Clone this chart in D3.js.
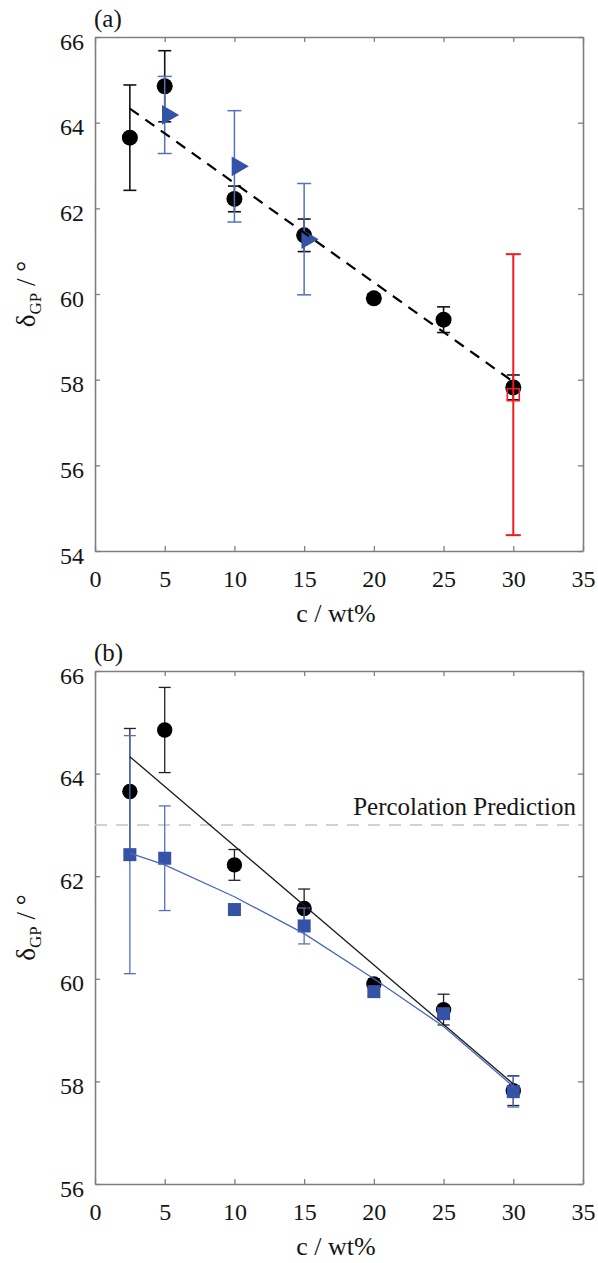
<!DOCTYPE html>
<html>
<head>
<meta charset="utf-8">
<script src="https://cdn.jsdelivr.net/npm/d3@7"></script>
<style>
  body { margin: 0; background: #fff; }
  svg { display: block; }
  text { font-family: "Liberation Serif", "DejaVu Serif", serif; fill: #151515; }
</style>
</head>
<body>
<div id="chart"></div>
<script>
// concentrations (wt%)
const concentrations = [2.5, 5, 10, 15, 20, 25, 30];
// measured delta_GP (black circles), both panels
const deltaMeasured = [63.65, 64.85, 62.22, 61.37, 59.9, 59.4, 57.82];
const deltaMeasuredErr = [1.23, 0.83, 0.3, 0.38, 0.1, 0.3, 0.29];
// panel (a) blue triangles
const triConc = [5, 10, 15];
const deltaTri = [64.18, 62.98, 61.28];
const deltaTriErr = [0.9, 1.3, 1.3];
// panel (a) red open square
const redConc = [30];
const deltaRed = [57.65];
const deltaRedErr = [3.28];
// linear fit (dashed in a, solid in b)
const fitConc = [2.5, 30];
const fitDelta = [64.33, 57.95];
// panel (b) blue squares and model curve
const deltaModel = [62.42, 62.35, 61.35, 61.03, 59.75, 59.32, 57.8];
const deltaModelErr = [2.32, 1.02, 0.06, 0.35, 0.08, 0.1, 0.3];
const modelCurve = [62.45, 62.22, 61.6, 60.88, 60.0, 59.07, 57.9];
const percolation = 63.0;
// ticks
const xTicks = [0, 5, 10, 15, 20, 25, 30, 35];
const yTicksA = [54, 56, 58, 60, 62, 64, 66];
const yTicksB = [56, 58, 60, 62, 64, 66];

const width = 598, height = 1263;
const svg = d3.select("#chart").append("svg")
  .attr("width", width).attr("height", height);

const left = 95, plotW = 488;
const axisGray = "#7f7f7f";
const blue = "#3452a6";
const blueBar = "#5571bd";

function errorBars(g, x, y, xs, ys, es, color, capW, sw) {
  const pts = xs.map((c, i) => ({ c, v: ys[i], e: es[i] }));
  const eb = g.append("g");
  eb.selectAll(null).data(pts).enter().append("line")
    .attr("x1", d => x(d.c)).attr("x2", d => x(d.c))
    .attr("y1", d => y(d.v - d.e)).attr("y2", d => y(d.v + d.e))
    .attr("stroke", color).attr("stroke-width", sw);
  [-1, 1].forEach(s => {
    eb.selectAll(null).data(pts).enter().append("line")
      .attr("x1", d => x(d.c) - capW / 2).attr("x2", d => x(d.c) + capW / 2)
      .attr("y1", d => y(d.v + s * d.e))
      .attr("y2", d => y(d.v + s * d.e))
      .attr("stroke", color).attr("stroke-width", sw);
  });
}

function drawFrame(top, plotH, yDomain, yTicks, tag) {
  const g = svg.append("g").attr("transform", `translate(${left},${top})`);
  const x = d3.scaleLinear().domain([0, 35]).range([0, plotW]);
  const y = d3.scaleLinear().domain(yDomain).range([plotH, 0]);

  const styleAxis = sel => {
    sel.selectAll("path.domain").attr("stroke", axisGray).attr("stroke-width", 1.6);
    sel.selectAll(".tick line").attr("stroke", axisGray).attr("stroke-width", 1.3);
    sel.selectAll(".tick text").attr("font-size", 24).attr("fill", "#151515")
      .attr("font-family", '"Liberation Serif", serif');
  };

  g.append("g").attr("transform", `translate(0,${plotH})`)
    .call(d3.axisBottom(x).tickValues(xTicks).tickSizeInner(-5).tickSizeOuter(0).tickPadding(19))
    .call(styleAxis);
  g.append("g")
    .call(d3.axisTop(x).tickValues(xTicks).tickSizeInner(-5).tickSizeOuter(0).tickFormat(""))
    .call(styleAxis);
  g.append("g")
    .call(d3.axisLeft(y).tickValues(yTicks).tickSizeInner(-5).tickSizeOuter(0).tickPadding(11))
    .call(styleAxis)
    .selectAll(".tick text").attr("dy", "0.5em");
  g.append("g").attr("transform", `translate(${plotW},0)`)
    .call(d3.axisRight(y).tickValues(yTicks).tickSizeInner(-5).tickSizeOuter(0).tickFormat(""))
    .call(styleAxis);

  svg.append("text").attr("x", left - 1).attr("y", top - 10)
    .attr("font-size", 25).text(tag);

  svg.append("text").attr("x", left + plotW / 2 - 3).attr("y", top + plotH + 71)
    .attr("text-anchor", "middle").attr("font-size", 26).text("c / wt%");

  const yl = svg.append("text")
    .attr("transform", `translate(35,${top + plotH / 2}) rotate(-90)`)
    .attr("text-anchor", "middle").attr("font-size", 27);
  yl.append("tspan").text("δ");
  yl.append("tspan").attr("font-size", 17).attr("dy", 6).text("GP");
  yl.append("tspan").attr("dy", -6).text(" / °");

  return { g, x, y };
}

// ---------- panel (a) ----------
{
  const { g, x, y } = drawFrame(37, 514, [54, 66], yTicksA, "(a)");

  errorBars(g, x, y, concentrations, deltaMeasured, deltaMeasuredErr, "#111", 13, 1.6);
  g.selectAll(".dot").data(concentrations).enter().append("circle")
    .attr("cx", d => x(d)).attr("cy", (d, i) => y(deltaMeasured[i]))
    .attr("r", 8).attr("fill", "#000");

  errorBars(g, x, y, triConc, deltaTri, deltaTriErr, blueBar, 14, 1.5);
  g.selectAll(".tri").data(triConc).enter().append("path")
    .attr("d", d3.symbol(d3.symbolTriangle, 170))
    .attr("transform", (d, i) => `translate(${x(d) + 3},${y(deltaTri[i])}) rotate(90)`)
    .attr("fill", blue);

  errorBars(g, x, y, redConc, deltaRed, deltaRedErr, "#ee1c24", 15, 2);
  g.selectAll(".sq").data(redConc).enter().append("rect")
    .attr("x", d => x(d) - 6).attr("y", (d, i) => y(deltaRed[i]) - 6)
    .attr("width", 12).attr("height", 12)
    .attr("fill", "none").attr("stroke", "#ee1c24").attr("stroke-width", 1.6);

  g.append("path")
    .datum(fitConc)
    .attr("d", d3.line().x(d => x(d)).y((d, i) => y(fitDelta[i])))
    .attr("fill", "none").attr("stroke", "#000")
    .attr("stroke-width", 2.2).attr("stroke-dasharray", "11,8");
}

// ---------- panel (b) ----------
{
  const { g, x, y } = drawFrame(671, 513, [56, 66], yTicksB, "(b)");

  g.append("line")
    .attr("x1", 0).attr("x2", plotW)
    .attr("y1", y(percolation)).attr("y2", y(percolation))
    .attr("stroke", "#c4c4c4").attr("stroke-width", 1.5).attr("stroke-dasharray", "12,9");
  g.append("text").attr("x", plotW - 7).attr("y", y(percolation) - 10)
    .attr("text-anchor", "end").attr("font-size", 25).text("Percolation Prediction");

  errorBars(g, x, y, concentrations, deltaMeasured, deltaMeasuredErr, "#222", 12, 1.3);
  g.selectAll(".dot").data(concentrations).enter().append("circle")
    .attr("cx", d => x(d)).attr("cy", (d, i) => y(deltaMeasured[i]))
    .attr("r", 7.7).attr("fill", "#000");

  errorBars(g, x, y, concentrations, deltaModel, deltaModelErr, blueBar, 12, 1.3);
  g.selectAll(".sq").data(concentrations).enter().append("rect")
    .attr("x", d => x(d) - 6.5).attr("y", (d, i) => y(deltaModel[i]) - 6.5)
    .attr("width", 13).attr("height", 13).attr("fill", blue);

  g.append("path")
    .datum(fitConc)
    .attr("d", d3.line().x(d => x(d)).y((d, i) => y(fitDelta[i])))
    .attr("fill", "none").attr("stroke", "#1a1a1a").attr("stroke-width", 1.3);
  g.append("path")
    .datum(concentrations)
    .attr("d", d3.line().x(d => x(d)).y((d, i) => y(modelCurve[i])))
    .attr("fill", "none").attr("stroke", "#4a68bb").attr("stroke-width", 1.3);
}
</script>
</body>
</html>
